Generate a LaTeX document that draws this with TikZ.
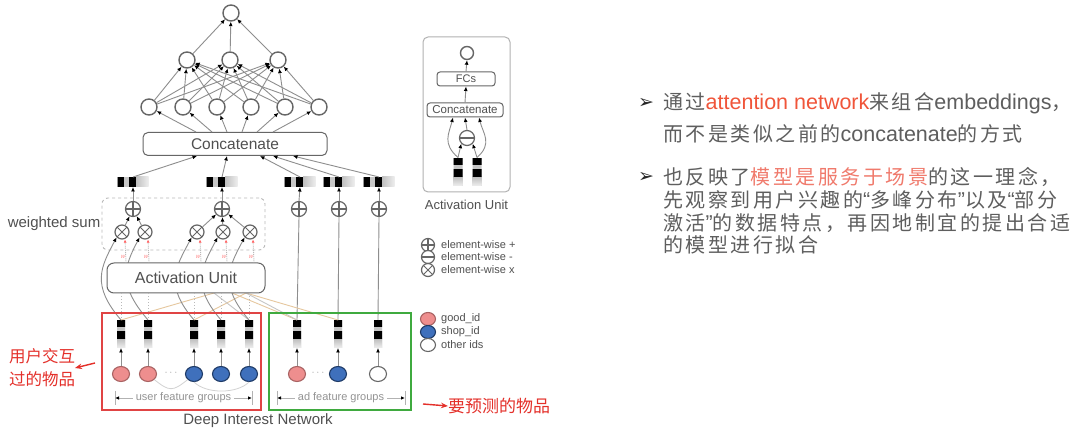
\documentclass[tikz,border=0pt]{standalone}
\usepackage{fontspec}
\setmainfont{Liberation Sans}
\newfontfamily\cjk[LetterSpace=12.5]{Noto Sans CJK SC}
\newfontfamily\cjkplain{Noto Sans CJK SC}
\newfontfamily\dingfont{DejaVu Sans}
\usetikzlibrary{arrows.meta,calc,shapes.geometric}
\definecolor{txt}{HTML}{5E5E5E}
\definecolor{dtxt}{HTML}{505050}
\definecolor{hlA}{HTML}{F0553A}
\definecolor{hlB}{HTML}{F07A6C}
\definecolor{redlbl}{HTML}{E4302A}
\definecolor{redbox}{HTML}{E04444}
\definecolor{greenbox}{HTML}{3FAA3F}
\definecolor{pinkid}{HTML}{EE8E8E}
\definecolor{pinkdr}{HTML}{A86262}
\definecolor{blueid}{HTML}{3F70BC}
\definecolor{bluedr}{HTML}{1E3A66}
\definecolor{tanline}{HTML}{E6C79E}
\definecolor{edge}{HTML}{8E8E8E}
\definecolor{ring}{HTML}{666666}
\newcommand\fsz[1]{\fontsize{#1}{#1}\selectfont}
\newcommand\cellfill[5]{\fill[#1] ([xshift=#2pt,yshift=#3pt]path picture bounding box.center) rectangle ([xshift=#4pt,yshift=#5pt]path picture bounding box.center);}
\tikzset{
 hemb/.style={minimum width=31pt,minimum height=10pt,inner sep=0pt,outer sep=0pt,
   path picture={
     \cellfill{gray!45}{-16}{-5}{3}{5}
     \shade[left color=gray!50,right color=gray!12] ([xshift=3pt,yshift=-5pt]path picture bounding box.center) rectangle ([xshift=16pt,yshift=5pt]path picture bounding box.center);
     \cellfill{black}{-16}{-5}{-9}{5}
     \cellfill{black}{-4}{-5}{3}{5}
   }},
 vemb/.style={minimum width=8pt,minimum height=28pt,inner sep=0pt,outer sep=0pt,
   path picture={
     \cellfill{gray!45}{-5}{-14}{5}{14}
     \shade[top color=gray!50,bottom color=gray!12] ([xshift=-5pt,yshift=-14pt]path picture bounding box.center) rectangle ([xshift=5pt,yshift=-5pt]path picture bounding box.center);
     \cellfill{black}{-5}{7}{5}{14}
     \cellfill{black}{-5}{-5}{5}{3}
   }},
 neuron/.style={circle,draw=ring,line width=1.4pt,fill=white,minimum size=16pt,inner sep=0pt},
 opl/.style={circle,draw=ring,line width=1.2pt,fill=white,minimum size=15pt,inner sep=0pt,
   path picture={\draw[ring,line width=1.2pt] (path picture bounding box.north) -- (path picture bounding box.south) (path picture bounding box.west) -- (path picture bounding box.east);}},
 omin/.style={circle,draw=ring,line width=1.2pt,fill=white,minimum size=15pt,inner sep=0pt,
   path picture={\draw[ring,line width=1.2pt] (path picture bounding box.west) -- (path picture bounding box.east);}},
 omul/.style={circle,draw=ring,line width=1.2pt,fill=white,minimum size=14pt,inner sep=0pt,
   path picture={\draw[ring,line width=1pt] (path picture bounding box.north west) -- (path picture bounding box.south east) (path picture bounding box.north east) -- (path picture bounding box.south west);}},
 idnode/.style={ellipse,line width=1.1pt,minimum width=17pt,minimum height=15pt,inner sep=0pt},
 pinkn/.style={idnode,fill=pinkid,draw=pinkdr},
 bluen/.style={idnode,fill=blueid,draw=bluedr},
 whiten/.style={idnode,fill=white,draw=ring},
 arr/.style={draw=edge,line width=0.9pt,-{Latex[length=4.5pt,width=4pt,color=black]}},
 plain/.style={draw=edge,line width=0.9pt},
 boxn/.style={draw=ring,line width=1pt,fill=white,rounded corners=5pt,inner sep=0pt,text=dtxt},
 lbl/.style={text=dtxt,inner sep=0pt},
 rtxt/.style={anchor=west,text=txt,inner sep=0pt},
}
\begin{document}
\begin{tikzpicture}[x=1pt,y=-1pt]
\useasboundingbox[fill=white] (0,0) rectangle (1080,435);

% ---------- upper MLP ----------
\node[neuron] (top) at (231,13) {};
\node[neuron] (l21) at (187,60) {};
\node[neuron] (l22) at (230,60) {};
\node[neuron] (l23) at (278,60) {};
\node[neuron] (l31) at (149,107) {};
\node[neuron] (l32) at (183,107) {};
\node[neuron] (l33) at (217,107) {};
\node[neuron] (l34) at (251,107) {};
\node[neuron] (l35) at (285,107) {};
\node[neuron] (l36) at (319,107) {};
\foreach \i in {1,...,6}{\foreach \j in {1,2,3}{\draw[arr] (l3\i) -- (l2\j);}}
\foreach \j in {1,2,3}{\draw[arr] (l2\j) -- (top);}
\node[boxn,minimum width=184pt,minimum height=23pt,font=\fsz{15.5}] (concat) at (235,144) {Concatenate};
\draw[arr] ([xshift=-39pt]concat.north) -- (l31);
\draw[arr] ([xshift=-23pt]concat.north) -- (l32);
\draw[arr] ([xshift=-8pt]concat.north) -- (l33);
\draw[arr] ([xshift=7pt]concat.north) -- (l34);
\draw[arr] ([xshift=22pt]concat.north) -- (l35);
\draw[arr] ([xshift=38pt]concat.north) -- (l36);

% ---------- pooled embeddings ----------
\node[hemb] (g1) at (133,182) {};
\node[hemb] (g2) at (222,182) {};
\node[hemb] (a1) at (300,182) {};
\node[hemb] (a2) at (339,182) {};
\node[hemb] (a3) at (379,182) {};
\draw[arr] (g1.north) -- ([xshift=-38pt]concat.south);
\draw[arr] (g2.north) -- ([xshift=-8pt]concat.south);
\draw[arr] (a1.north) -- ([xshift=25pt]concat.south);
\draw[arr] (a2.north) -- ([xshift=38pt]concat.south);
\draw[arr] (a3.north) -- ([xshift=58pt]concat.south);

% ---------- weighted sum ----------
\node[draw=gray!55,dashed,line width=0.9pt,rounded corners=6pt,minimum width=163pt,minimum height=52pt,inner sep=0pt] (ws) at (183.5,224) {};
\node[lbl,anchor=east,font=\fsz{15}] (wslbl) at ([xshift=-1pt]ws.west) {weighted sum};
\node[opl] (p1) at (133,209) {};
\node[opl] (p2) at (222,209) {};
\node[opl] (pa1) at (299,209) {};
\node[opl] (pa2) at (339,209) {};
\node[opl] (pa3) at (379,209) {};
\foreach \n/\b in {p1/g1,p2/g2,pa1/a1,pa2/a2,pa3/a3}{\draw[arr] (\n.north) -- (\b.south);}
\node[omul] (m1) at (122,232) {};
\node[omul] (m2) at (145,232) {};
\node[omul] (m3) at (197,232) {};
\node[omul] (m4) at (223,232) {};
\node[omul] (m5) at (250,232) {};
\draw[arr] (m1) -- (p1);
\draw[arr] (m2) -- (p1);
\draw[arr] (m3) -- (p2);
\draw[arr] (m4) -- (p2);
\draw[arr] (m5) -- (p2);

% ---------- bottom embeddings ----------
\node[vemb] (ub1) at (121,334) {};
\node[vemb] (ub2) at (148,334) {};
\node[vemb] (ub3) at (194,334) {};
\node[vemb] (ub4) at (221,334) {};
\node[vemb] (ub5) at (249,334) {};
\node[vemb] (ab1) at (297,334) {};
\node[vemb] (ab2) at (338,334) {};
\node[vemb] (ab3) at (378,334) {};

% ad lines to sum nodes
\draw[plain] (ab1.north) -- (pa1.south);
\draw[plain] (ab2.north) -- (pa2.south);
\draw[plain] (ab3.north) -- (pa3.south);

% tan / gray lines into activation unit
\coordinate (au1) at (214,293);
\coordinate (au2) at (232,293);
\coordinate (au3) at (246,293);
\draw[tanline,line width=0.9pt] (ab1.north) -- (au2);
\draw[tanline,line width=0.9pt] (ab2.north) -- (au3);
\draw[tanline,line width=0.9pt] (ub3.north) -- (au3);
\draw[tanline,line width=0.9pt] (ub1.north) -- (au1);
\draw[gray!45,line width=0.9pt] (ub5.north) -- (au1);
\draw[gray!45,line width=0.9pt] (ab1.north) -- (au3);

% curves from user embeddings to multiply nodes
\draw[arr] (ub1.north) .. controls +(-30,-35) and +(-16,30) .. (m1.south west);
\draw[arr] (ub2.north) .. controls +(-30,-35) and +(-16,30) .. (m2.south west);
\draw[arr] (ub3.north) .. controls +(-30,-35) and +(-16,30) .. (m3.south west);
\draw[arr] (ub4.north) .. controls +(-30,-35) and +(-16,30) .. (m4.south west);
\draw[arr] (ub5.north) .. controls +(-30,-35) and +(-16,30) .. (m5.south west);

% activation unit
\node[boxn,rounded corners=7pt,minimum width=158pt,minimum height=30pt,font=\fsz{16}] (act) at (186,278) {Activation Unit};
\foreach \u in {ub1,ub2,ub3,ub4,ub5}{\draw[gray!55,dotted,line width=1pt] (act.south -| \u) -- (\u.north);}
\foreach \m in {m1,m2,m3,m4,m5}{
  \draw[gray!55,densely dotted,line width=0.9pt,-{Latex[length=3pt,width=3pt,color=red!60]}] ($(act.north -| \m)+(4,0)$) -- ($(\m.south)+(3,0)$);
  \node[text=red!45,font=\fsz{6}\itshape,inner sep=0pt] at ($(\m)+(1,25)$) {w};
}

% id nodes
\node[pinkn] (uc1) at (121,374) {};
\node[pinkn] (uc2) at (148,374) {};
\node[bluen] (uc3) at (194,374) {};
\node[bluen] (uc4) at (221,374) {};
\node[bluen] (uc5) at (249,374) {};
\node[pinkn] (ac1) at (297,374) {};
\node[bluen] (ac2) at (338,374) {};
\node[whiten] (ac3) at (378,374) {};
\node[text=gray!70,font=\fsz{11}] (dots1) at (171,373) {$\cdots$};
\node[text=gray!70,font=\fsz{11}] (dots2) at (318,373) {$\cdots$};
\foreach \c/\b in {uc1/ub1,uc2/ub2,uc3/ub3,uc4/ub4,uc5/ub5,ac1/ab1,ac2/ab2,ac3/ab3}{\draw[arr] (\c.north) -- (\b.south);}
\draw[gray!35,line width=0.8pt] (uc2.south east) .. controls +(15,12) and +(-15,12) .. (uc3.south west);
\draw[gray!35,line width=0.8pt] (uc3.south) .. controls +(12,12) and +(-12,12) .. (uc5.south);

% group brackets
\node[lbl,font=\fsz{11},text=gray!85] (ufg) at (183.5,398) {user feature groups};
\coordinate (ufL) at (115,398);
\coordinate (ufR) at (252,398);
\draw[gray!60,line width=0.9pt] (115,391) -- (115,405) (252,391) -- (252,405);
\draw[gray!60,line width=0.9pt,-{Latex[length=4pt,width=3.5pt,color=black]}] ([xshift=-3pt]ufg.west) -- (ufL);
\draw[gray!60,line width=0.9pt,-{Latex[length=4pt,width=3.5pt,color=black]}] ([xshift=3pt]ufg.east) -- (ufR);
\node[lbl,font=\fsz{11},text=gray!85] (afg) at (341,398) {ad feature groups};
\coordinate (afL) at (277,398);
\coordinate (afR) at (405,398);
\draw[gray!60,line width=0.9pt] (277,391) -- (277,405) (405,391) -- (405,405);
\draw[gray!60,line width=0.9pt,-{Latex[length=4pt,width=3.5pt,color=black]}] ([xshift=-3pt]afg.west) -- (afL);
\draw[gray!60,line width=0.9pt,-{Latex[length=4pt,width=3.5pt,color=black]}] ([xshift=3pt]afg.east) -- (afR);

% coloured frames
\node[draw=redbox,line width=1.7pt,minimum width=159pt,minimum height=97pt,inner sep=0pt] (redfr) at (181.5,361.5) {};
\node[draw=greenbox,line width=1.7pt,minimum width=142pt,minimum height=97pt,inner sep=0pt] (greenfr) at (340,361.5) {};
\node[lbl,font=\fsz{15}] (din) at (258,421) {Deep Interest Network};

% red annotations
\node[anchor=west,text=redlbl,inner sep=0pt,font=\cjkplain\fsz{16.5}] (hist1) at (9,356) {用户交互};
\node[anchor=west,text=redlbl,inner sep=0pt,font=\cjkplain\fsz{16.5}] (hist2) at (9,379) {过的物品};
\coordinate (rtail) at (95,363);
\coordinate (rtip) at (75,368);
\draw[redlbl,line width=1.4pt,-{Stealth[length=7pt,width=5.5pt]}] (rtail) -- (rtip);
\node[anchor=west,text=redlbl,inner sep=0pt,font=\cjkplain\fsz{17}] (pred) at (448,406) {要预测的物品};
\coordinate (ptail) at (423,404);
\draw[redlbl,line width=1.4pt,-{Stealth[length=7pt,width=5.5pt]}] (ptail) -- (pred.west);

% ---------- activation unit inset ----------
\node[draw=gray!60,line width=1pt,rounded corners=5pt,minimum width=87pt,minimum height=155pt,inner sep=0pt] (inset) at (466.5,114.5) {};
\node[lbl,font=\fsz{13}] (insetlbl) at (466.5,205) {Activation Unit};
\node[neuron,minimum size=13pt] (iout) at (467,53) {};
\node[boxn,rounded corners=3pt,minimum width=58pt,minimum height=14pt,font=\fsz{11}] (fcs) at (466,79) {FCs};
\node[boxn,rounded corners=3pt,minimum width=76pt,minimum height=14pt,font=\fsz{11.5}] (icat) at (465,110) {Concatenate};
\node[omin] (imin) at (467,138) {};
\node[vemb,minimum width=9pt,minimum height=29pt] (ib1) at (458,172) {};
\node[vemb,minimum width=9pt,minimum height=29pt] (ib2) at (477,172) {};
\draw[arr] (fcs.north) -- (iout.south);
\draw[arr] (icat.north) -- (fcs.south);
\draw[arr] (imin.north) -- (icat.south);
\draw[arr] (ib1.north) -- (imin.south west);
\draw[arr] (ib2.north) -- (imin.south east);
\draw[arr] (ib1.north) .. controls +(-16,-14) and +(-4,16) .. ([xshift=-12pt]icat.south);
\draw[arr] (ib2.north) .. controls +(16,-14) and +(4,16) .. ([xshift=14pt]icat.south);

% ---------- legend ----------
\node[opl,minimum size=13pt] (lg1) at (428,245) {};
\node[omin,minimum size=13pt] (lg2) at (428,257) {};
\node[omul,minimum size=13pt] (lg3) at (428,270) {};
\node[rtxt,font=\fsz{11},text=dtxt] (lt1) at (441,245) {element-wise +};
\node[rtxt,font=\fsz{11},text=dtxt] (lt2) at (441,257) {element-wise -};
\node[rtxt,font=\fsz{11},text=dtxt] (lt3) at (441,270) {element-wise x};
\node[pinkn,minimum width=15pt,minimum height=13pt] (lg4) at (428,319) {};
\node[bluen,minimum width=15pt,minimum height=13pt] (lg5) at (428,332) {};
\node[whiten,minimum width=15pt,minimum height=13pt] (lg6) at (428,345) {};
\node[rtxt,font=\fsz{11},text=dtxt] (lt4) at (441,319) {good\_id};
\node[rtxt,font=\fsz{11},text=dtxt] (lt5) at (441,332) {shop\_id};
\node[rtxt,font=\fsz{11},text=dtxt] (lt6) at (441,345) {other ids};

% ---------- right-hand text ----------
\node[anchor=center,inner sep=0pt,text=black!85,font=\dingfont\fsz{19}] (b1) at (646,103) {➢};
\node[anchor=center,inner sep=0pt,text=black!85,font=\dingfont\fsz{19}] (b2) at (646,177) {➢};
\node[rtxt,font=\fsz{21.5}] (t1) at (663,103) {{\cjk\fsz{20}通过}\textcolor{hlA}{attention network}{\cjk\fsz{20}来组合}embeddings{\cjk\fsz{20}，}};
\node[rtxt,font=\fsz{21.5}] (t2) at (663,134) {{\cjk\fsz{20}而不是类似之前的}concatenate{\cjk\fsz{20}的方式}};
\node[rtxt,font=\fsz{21.5}] (t3) at (663,177) {{\cjk\fsz{20}也反映了\textcolor{hlB}{模型是服务于场景}的这一理念，}};
\node[rtxt,font=\fsz{21.5}] (t4) at (663,200) {{\cjk\fsz{20}先观察到用户兴趣的}“{\cjk\fsz{20}多峰分布}”{\cjk\fsz{20}以及}“{\cjk\fsz{20}部分}};
\node[rtxt,font=\fsz{21.5}] (t5) at (663,223) {{\cjk\fsz{20}激活}”{\cjk\fsz{20}的数据特点，再因地制宜的提出合适}};
\node[rtxt,font=\fsz{21.5}] (t6) at (663,245) {{\cjk\fsz{20}的模型进行拟合}};
\end{tikzpicture}
\end{document}
